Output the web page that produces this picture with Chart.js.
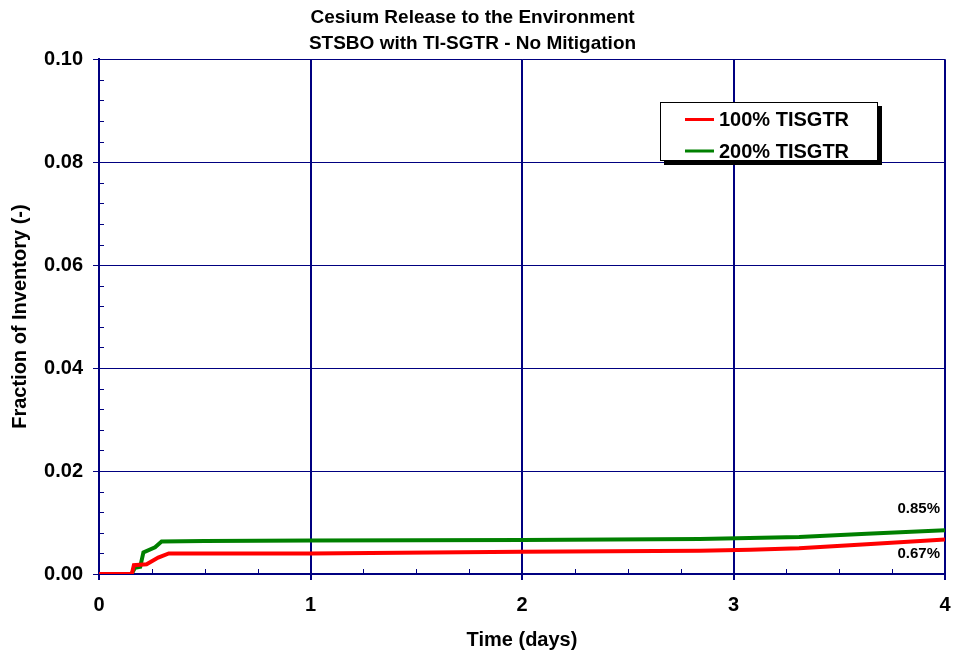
<!DOCTYPE html>
<html>
<head>
<meta charset="utf-8">
<script src="https://cdn.jsdelivr.net/npm/chart.js@4/dist/chart.umd.min.js"></script>
<style>
  html, body { margin: 0; padding: 0; background: #ffffff; }
  #wrap { width: 956px; height: 656px; }
</style>
</head>
<body>
<div id="wrap"><canvas id="c" width="956" height="656"></canvas></div>
<script>
// ---- Data ----
const titleLines = ["Cesium Release to the Environment", "STSBO with TI-SGTR - No Mitigation"];
const seriesNames = ["100% TISGTR", "200% TISGTR"];

const time100 = [0, 0.155, 0.165, 0.225, 0.28, 0.33, 1.0, 2.0, 2.84, 3.08, 3.31, 3.63, 4.0];
const frac100 = [0, 0, 0.0017, 0.0019, 0.0032, 0.0040, 0.0040, 0.0043, 0.0045, 0.0047, 0.0050, 0.0058, 0.0067];

const time200 = [0, 0.154, 0.17, 0.195, 0.21, 0.265, 0.296, 0.5, 1.0, 2.0, 2.84, 3.31, 3.63, 4.0];
const frac200 = [0, 0, 0.0012, 0.0014, 0.0042, 0.0052, 0.0063, 0.0064, 0.0065, 0.0066, 0.0068, 0.0072, 0.0078, 0.0085];

const endLabels = ["0.85%", "0.67%"];
const xTicks = [0, 1, 2, 3, 4];
const yTicks = [0.00, 0.02, 0.04, 0.06, 0.08, 0.10];
const xMinorStep = 0.25;
const yMinorStep = 0.004;

const NAVY = '#000080';
const FONT = "'Liberation Sans', Arial, sans-serif";

function toPoints(xs, ys) { return xs.map((x, i) => ({ x: x, y: ys[i] })); }

const minorTicks = {
  id: 'minorTicks',
  afterDatasetsDraw(chart) {
    const { ctx, chartArea: a, scales: { x, y } } = chart;
    ctx.save();
    ctx.strokeStyle = NAVY;
    ctx.lineWidth = 1;
    ctx.beginPath();
    for (let v = xMinorStep; v < 4 - 1e-9; v += xMinorStep) {
      if (Math.abs(v - Math.round(v)) < 1e-9) continue;
      const px = Math.round(x.getPixelForValue(v)) + 0.5;
      ctx.moveTo(px, a.bottom);
      ctx.lineTo(px, a.bottom - 5);
    }
    for (let v = yMinorStep; v < 0.1 - 1e-9; v += yMinorStep) {
      const r = v / 0.02;
      if (Math.abs(r - Math.round(r)) < 1e-6) continue;
      const py = Math.round(y.getPixelForValue(v)) + 0.5;
      ctx.moveTo(a.left, py);
      ctx.lineTo(a.left + 5, py);
    }
    ctx.stroke();
    ctx.restore();
  }
};

const annotations = {
  id: 'annotations',
  afterDraw(chart) {
    const { ctx, scales: { x, y } } = chart;
    ctx.save();
    // end value labels
    ctx.fillStyle = '#000';
    ctx.font = "bold 15px " + FONT;
    ctx.textAlign = 'right';
    ctx.textBaseline = 'middle';
    const xe = x.getPixelForValue(4) - 5;
    ctx.fillText(endLabels[0], xe, y.getPixelForValue(frac200[frac200.length - 1]) - 21);
    ctx.fillText(endLabels[1], xe, y.getPixelForValue(frac100[frac100.length - 1]) + 14);

    // legend box
    const lx = 660, ly = 102, lw = 218, lh = 59;
    ctx.fillStyle = '#000';
    ctx.fillRect(lx + 4, ly + 4, lw, lh);
    ctx.fillStyle = '#fff';
    ctx.fillRect(lx, ly, lw, lh);
    ctx.strokeStyle = '#000';
    ctx.lineWidth = 1;
    ctx.strokeRect(lx + 0.5, ly + 0.5, lw - 1, lh - 1);
    const colors = ['#ff0000', '#008000'];
    const rowsY = [119.5, 151];
    ctx.font = "bold 20px " + FONT;
    ctx.textAlign = 'left';
    ctx.textBaseline = 'middle';
    for (let i = 0; i < 2; i++) {
      ctx.strokeStyle = colors[i];
      ctx.lineWidth = 3;
      ctx.beginPath();
      ctx.moveTo(685, rowsY[i]);
      ctx.lineTo(714, rowsY[i]);
      ctx.stroke();
      ctx.fillStyle = '#000';
      ctx.fillText(seriesNames[i], 719, rowsY[i] + 1);
    }
    ctx.restore();
  }
};

new Chart(document.getElementById('c'), {
  type: 'line',
  data: {
    datasets: [
      {
        label: seriesNames[0],
        data: toPoints(time100, frac100),
        borderColor: '#ff0000',
        backgroundColor: '#ff0000',
        borderWidth: 4,
        pointRadius: 0,
        tension: 0,
        fill: false
      },
      {
        label: seriesNames[1],
        data: toPoints(time200, frac200),
        borderColor: '#008000',
        backgroundColor: '#008000',
        borderWidth: 4,
        pointRadius: 0,
        tension: 0,
        fill: false
      }
    ]
  },
  options: {
    responsive: false,
    animation: false,
    devicePixelRatio: 1,
    layout: { padding: { left: 0, right: 11, top: 0, bottom: 0 } },
    plugins: {
      legend: { display: false },
      tooltip: { enabled: false },
      title: {
        display: true,
        text: titleLines,
        color: '#000',
        font: { family: FONT, size: 19, weight: 'bold', lineHeight: 1.4 },
        padding: { top: 4, bottom: 2 }
      }
    },
    scales: {
      x: {
        type: 'linear',
        min: 0,
        max: 4,
        afterFit(s) { s.height = 82; s.paddingLeft = 0; s.paddingRight = 0; },
        afterBuildTicks(s) { s.ticks = xTicks.map(v => ({ value: v })); },
        ticks: {
          color: '#000',
          font: { family: FONT, size: 20, weight: 'bold' },
          padding: 13,
          maxRotation: 0,
          callback: v => String(v)
        },
        grid: { color: NAVY, lineWidth: 2, tickLength: 6, drawTicks: true },
        border: { display: true, color: NAVY, width: 2 },
        title: {
          display: true,
          text: 'Time (days)',
          color: '#000',
          font: { family: FONT, size: 20, weight: 'bold' },
          padding: { top: 0, bottom: 4 }
        }
      },
      y: {
        type: 'linear',
        min: 0,
        max: 0.1,
        afterFit(s) { s.width = 99; s.paddingTop = 0; s.paddingBottom = 0; },
        afterBuildTicks(s) { s.ticks = yTicks.map(v => ({ value: v })); },
        ticks: {
          color: '#000',
          font: { family: FONT, size: 20, weight: 'bold' },
          padding: 10,
          callback: v => Number(v).toFixed(2)
        },
        grid: { color: NAVY, lineWidth: 1, tickLength: 6, drawTicks: true },
        border: { display: true, color: NAVY, width: 2 },
        title: {
          display: true,
          text: 'Fraction of Inventory (-)',
          color: '#000',
          font: { family: FONT, size: 20, weight: 'bold' },
          padding: { top: 8, bottom: 0 }
        }
      }
    }
  },
  plugins: [minorTicks, annotations]
});
</script>
</body>
</html>
